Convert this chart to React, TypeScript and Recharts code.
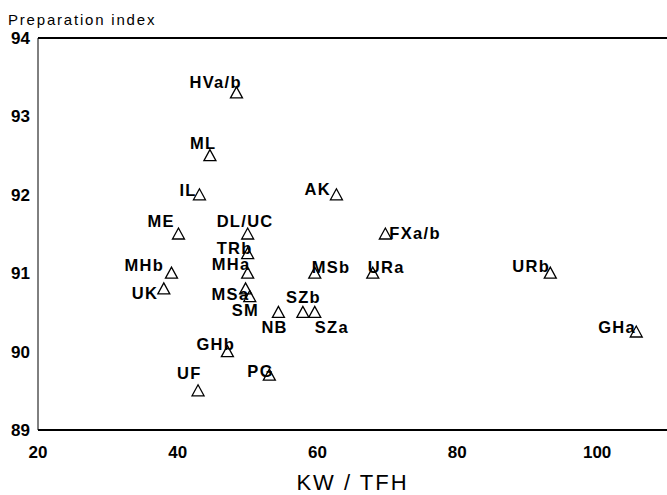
import {
  ScatterChart,
  Scatter,
  XAxis,
  YAxis,
  ReferenceLine,
  Label,
} from "recharts";

const labels = [
  "HVa/b", "ML", "IL", "AK", "ME", "DL/UC", "FXa/b", "TRb", "MHb", "MHa",
  "MSb", "URa", "URb", "UK", "MSa", "SM", "SZb", "NB", "SZa", "GHa",
  "GHb", "UF", "PG",
];
const kwPerTfh = [
  48.4, 44.6, 43.1, 62.7, 40.1, 50.0, 69.7, 50.0, 39.1, 50.0,
  59.6, 67.9, 93.3, 38.0, 49.7, 50.3, 57.9, 54.4, 59.6, 105.6,
  47.1, 42.9, 53.1,
];
const prepIndex = [
  93.3, 92.5, 92.0, 92.0, 91.5, 91.5, 91.5, 91.25, 91.0, 91.0,
  91.0, 91.0, 91.0, 90.8, 90.8, 90.7, 90.5, 90.5, 90.5, 90.25,
  90.0, 89.5, 89.7,
];
const xTicks = [20, 40, 60, 80, 100];
const yTicks = [89, 90, 91, 92, 93, 94];

// where each label sits relative to its triangle (text start, baseline)
const labelOffset: Record<string, [number, number]> = {
  "HVa/b": [-47, -5],
  ML: [-20, -7],
  IL: [-20, 1],
  AK: [-32, 0],
  ME: [-31, -7],
  "DL/UC": [-31, -7],
  "FXa/b": [4, 5],
  TRb: [-31, 0],
  MHb: [-47, -2],
  MHa: [-36, -3],
  MSb: [-3, 0],
  URa: [-5, 0],
  URb: [-38, -1],
  UK: [-32, 10],
  MSa: [-34, 11],
  SM: [-18, 19],
  SZb: [-17, -9],
  NB: [-17, 21],
  SZa: [0, 21],
  GHa: [-38, 1],
  GHb: [-31, -2],
  UF: [-21, -12],
  PG: [-22, 2],
};

const data = labels.map((name, i) => ({
  name,
  x: kwPerTfh[i],
  y: prepIndex[i],
}));

const font = "'Liberation Sans', Arial, sans-serif";

const Triangle = (props: any) => {
  const { cx, cy, payload } = props;
  const [dx, dy] = labelOffset[payload.name] || [0, 0];
  return (
    <g>
      <path
        d={`M${cx - 6},${cy + 5} L${cx + 6},${cy + 5} L${cx},${cy - 6} Z`}
        fill="none"
        stroke="#000"
        strokeWidth={1.3}
      />
      <text
        x={cx + dx}
        y={cy + dy}
        fontFamily={font}
        fontSize={16.5}
        fontWeight="bold"
        letterSpacing={1.3}
        fill="#000"
      >
        {payload.name}
      </text>
    </g>
  );
};

export default function App() {
  return (
    <div style={{ position: "absolute", left: 0, top: 0, background: "#fff" }}>
      <ScatterChart
        width={667}
        height={495}
        margin={{ top: 38, right: 0, bottom: 0, left: 0 }}
      >
        <XAxis
          type="number"
          dataKey="x"
          domain={[20, 110]}
          ticks={xTicks}
          allowDataOverflow
          height={65}
          tickLine={false}
          tickMargin={10}
          axisLine={{ stroke: "#000", strokeWidth: 2 }}
          tick={{ fill: "#000", fontSize: 17, fontWeight: "bold", fontFamily: font }}
        >
          <Label
            value="KW / TFH"
            position="insideBottom"
            offset={5}
            fill="#000"
            fontSize={22}
            letterSpacing={2}
            fontFamily={font}
          />
        </XAxis>
        <YAxis
          type="number"
          dataKey="y"
          domain={[89, 94]}
          ticks={yTicks}
          allowDataOverflow
          width={38}
          tickLine={false}
          axisLine={{ stroke: "#000", strokeWidth: 1 }}
          tick={{ fill: "#000", fontSize: 17, fontWeight: "bold", fontFamily: font }}
        >
          <Label
            content={() => (
              <text
                x={8}
                y={25}
                fontFamily={font}
                fontSize={15}
                letterSpacing={1.8}
                fill="#000"
              >
                Preparation index
              </text>
            )}
          />
        </YAxis>
        <ReferenceLine y={94} stroke="#000" strokeWidth={2} />
        <Scatter data={data} shape={<Triangle />} isAnimationActive={false} />
      </ScatterChart>
    </div>
  );
}
